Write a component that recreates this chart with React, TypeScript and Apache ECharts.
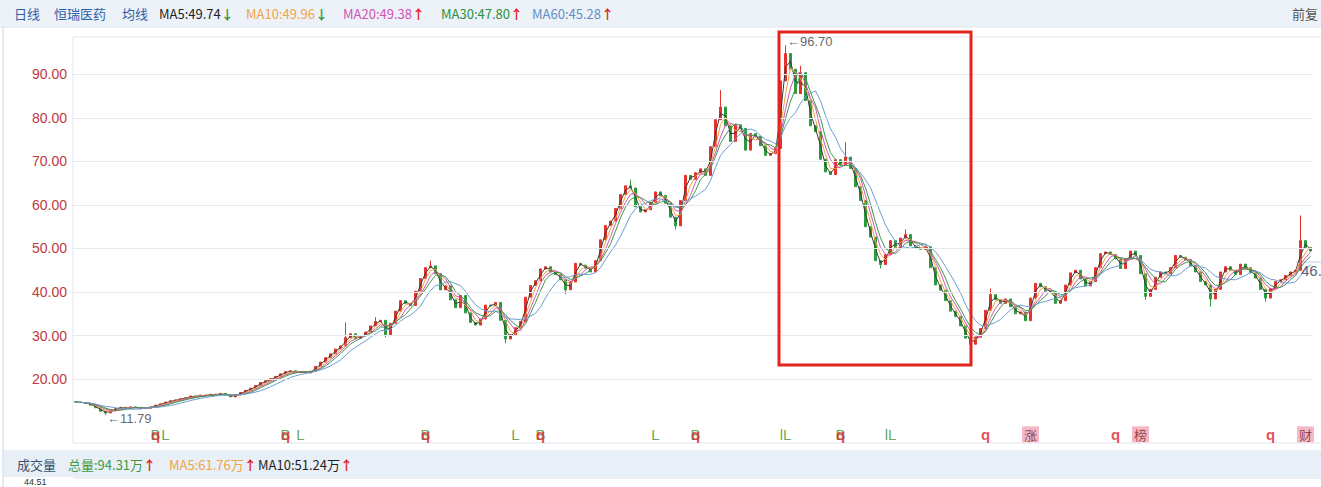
import React, { useEffect, useRef } from "react";
import * as echarts from "echarts";

// ---- data (one candle ≈ two trading weeks) ----
const closes = [
  14.7, 14.6, 14.4, 14.0, 13.4, 12.6, 12.2, 12.8, 13.2, 13.5,
  13.3, 13.6, 13.4, 13.2, 13.3, 13.6, 14.0, 14.3, 14.7, 15.0,
  15.2, 15.5, 15.7, 16.1, 16.0, 16.3, 16.2, 16.5, 16.4, 16.7,
  16.3, 15.9, 16.4, 16.9, 17.4, 17.9, 18.5, 19.2, 19.6, 20.1,
  20.6, 21.2, 21.7, 21.9, 21.5, 21.7, 21.4, 21.8, 22.9, 23.9,
  24.9, 25.8, 26.9, 27.6, 29.5, 30.4, 29.3, 29.9, 30.8, 32.2,
  33.2, 33.5, 30.2, 32.8, 35.6, 38.0, 37.4, 36.9, 40.2, 43.1,
  45.6, 46.0, 44.2, 40.5, 41.4, 38.2, 36.4, 39.2, 35.2, 33.0,
  32.4, 33.8, 37.0, 36.8, 37.6, 33.5, 29.2, 30.2, 31.8, 33.2,
  38.8, 41.5, 42.6, 45.3, 45.8, 44.6, 44.0, 42.8, 40.5, 42.3,
  46.6, 46.2, 45.5, 44.6, 47.2, 52.0, 55.3, 56.3, 59.2, 62.4,
  64.4, 63.9, 59.6, 58.4, 58.9, 60.6, 63.0, 62.2, 60.4, 57.2,
  55.2, 61.0, 66.8, 65.9, 67.4, 68.3, 66.8, 73.4, 79.6, 82.5,
  78.2, 74.6, 78.4, 77.6, 72.6, 76.4, 75.8, 73.6, 71.4, 71.8,
  73.0, 88.5, 94.8, 91.2, 85.6, 90.4, 84.0, 78.2, 76.8, 70.5,
  67.6, 67.0, 70.4, 69.2, 71.0, 68.4, 64.2, 61.0, 55.0, 52.6,
  47.2, 46.3, 48.6, 51.8, 50.2, 52.4, 53.2, 50.6, 50.2, 49.8,
  50.4, 45.6, 41.6, 40.4, 38.0, 35.6, 34.4, 32.2, 29.4, 28.0,
  29.6, 31.6, 35.8, 39.4, 38.2, 37.4, 38.4, 36.6, 35.0, 35.4,
  33.4, 38.6, 42.0, 41.2, 40.2, 40.0, 37.4, 38.0, 41.6, 44.4,
  45.0, 43.0, 41.4, 42.4, 45.6, 48.8, 49.2, 48.6, 47.6, 45.4,
  47.6, 49.4, 48.4, 44.2, 39.0, 40.6, 43.4, 44.6, 44.2, 45.6,
  48.4, 48.0, 47.4, 46.0, 44.6, 42.4, 41.6, 38.4, 40.6, 44.6,
  45.8, 45.0, 44.0, 46.4, 45.6, 44.4, 43.2, 40.6, 38.6, 40.8,
  42.4, 42.8, 43.8, 44.6, 45.0, 51.8, 50.2, 49.4,
];
const firstOpen = 14.8;
// [candle index, intraperiod high]
const highMarks: [number, number][] = [
  [54, 33.0], [60, 34.2], [71, 47.2], [111, 65.8], [129, 86.4], [142, 96.7],
  [145, 92.0], [154, 74.4], [166, 54.4], [183, 40.8], [245, 57.6],
];
// [candle index, intraperiod low]
const lowMarks: [number, number][] = [
  [6, 11.79], [62, 29.6], [86, 28.2], [98, 39.5], [120, 54.4], [161, 45.4],
  [179, 27.0], [214, 38.2], [227, 36.6], [238, 37.8],
];
const categories = closes.map((_, i) => `K${i + 1}`);
const yTicks = [20, 30, 40, 50, 60, 70, 80, 90];
const maNames = ["MA5", "MA10", "MA20", "MA30", "MA60"];
const maWindows = [2, 3, 4, 5, 8]; // in candles
const maColors = ["#3a3a3a", "#f0a23e", "#d452b6", "#3a9847", "#6b9bd2"];
const peakMark = { index: 142, value: 96.7, text: "←96.70" };
const lowMark = { index: 6, value: 11.79, text: "←11.79" };
// bottom event markers: [candle index, kind]
const events: [number, string][] = [
  [16, "RG"], [18, "L"], [42, "RG"], [45, "L"], [70, "RG"], [88, "L"], [93, "RG"],
  [116, "L"], [124, "RG"], [142, "IL"], [153, "RG"], [163, "IL"], [182, "Q"],
  [191, "涨"], [208, "Q"], [213, "榜"], [239, "Q"], [246, "财"],
];
const markerLevel = 7.3;

const maHeader = [
  { label: "MA5:49.74", arrow: "↓", color: "#1f1f1f" },
  { label: "MA10:49.96", arrow: "↓", color: "#f2a446" },
  { label: "MA20:49.38", arrow: "↑", color: "#d052b4" },
  { label: "MA30:47.80", arrow: "↑", color: "#2e8f3a" },
  { label: "MA60:45.28", arrow: "↑", color: "#5f8fc8" },
];
const maHeaderX = [159, 246, 343, 441, 532];
const volHeader = [
  { label: "总量:94.31万", arrow: "↑", color: "#3f9a3c" },
  { label: "MA5:61.76万", arrow: "↑", color: "#f0a446" },
  { label: "MA10:51.24万", arrow: "↑", color: "#1f1f1f" },
];
const volHeaderX = [68, 169, 258];

const FONT = '"Noto Sans CJK SC", "Liberation Sans", Arial, sans-serif';
const NUMFONT = '"Liberation Sans", Arial, sans-serif';
const UP = "#e5322d";
const DOWN = "#2e9a3f";

function movingAverage(w: number) {
  return closes.map((_, i) => {
    const s = Math.max(0, i - w + 1);
    let sum = 0;
    for (let k = s; k <= i; k++) sum += closes[k];
    return +(sum / (i - s + 1)).toFixed(2);
  });
}

function buildOption() {
  const ohlc = closes.map((c, i) => {
    const o = i === 0 ? firstOpen : closes[i - 1];
    let lo = Math.min(o, c);
    let hi = Math.max(o, c);
    const h = highMarks.find((m) => m[0] === i);
    if (h) hi = h[1];
    const l = lowMarks.find((m) => m[0] === i);
    if (l) lo = l[1];
    return [o, c, lo, hi];
  });

  const maSeries = maNames.map((n, k) => ({
    type: "line",
    name: n,
    data: movingAverage(maWindows[k]),
    showSymbol: false,
    symbol: "none",
    silent: true,
    z: 3,
    lineStyle: { color: maColors[k], width: 1 },
  }));

  const redGlyphs = events
    .filter((e) => e[1] === "RG" || e[1] === "Q")
    .map((e) => ({ value: [e[0], markerLevel], name: "q" }));
  const greenGlyphs = events
    .filter((e) => e[1] === "RG" || e[1] === "L" || e[1] === "IL")
    .map((e) => ({ value: [e[0], markerLevel], name: e[1] === "RG" ? "B" : e[1] === "IL" ? "lL" : "L" }));
  const badges = events
    .filter((e) => e[1] !== "RG" && e[1] !== "Q" && e[1] !== "L" && e[1] !== "IL")
    .map((e) => ({ value: [e[0], markerLevel], name: e[1] }));

  const glyphSeries = (data: any[], color: string, extra: any = {}) => ({
    type: "scatter",
    data,
    symbolSize: 1,
    itemStyle: { color: "rgba(0,0,0,0)" },
    silent: true,
    z: 6,
    label: {
      show: true,
      position: "inside",
      formatter: "{b}",
      color,
      fontSize: 15,
      fontFamily: NUMFONT,
      ...extra,
    },
  });

  const g: any[] = [];
  // header band
  g.push({ type: "rect", shape: { x: 0, y: 0, width: 1321, height: 27 }, style: { fill: "#edf2f9" }, z: -10 });
  g.push({ type: "line", shape: { x1: 0, y1: 27, x2: 1321, y2: 27 }, style: { stroke: "#dfe6f0", lineWidth: 1 } });
  const hdr = [
    { t: "日线", x: 14, c: "#2f5fa8" },
    { t: "恒瑞医药", x: 54, c: "#2f5fa8" },
    { t: "均线", x: 122, c: "#2f5fa8" },
  ];
  hdr.forEach((h) =>
    g.push({ type: "text", x: h.x, y: 13, style: { text: h.t, fill: h.c, fontSize: 13, fontFamily: FONT, verticalAlign: "middle" } })
  );
  maHeader.forEach((m, k) =>
    g.push({
      type: "text",
      x: maHeaderX[k],
      y: 13,
      style: {
        text: `{t|${m.label}}{a|${m.arrow}}`,
        verticalAlign: "middle",
        rich: {
          t: { fill: m.color, fontSize: 13, fontFamily: FONT },
          a: { fill: m.arrow === "↓" ? DOWN : "#e0262a", fontSize: 13, fontWeight: "bold", fontFamily: FONT },
        },
      },
    })
  );
  g.push({ type: "text", x: 1292, y: 13, style: { text: "前复", fill: "#555", fontSize: 13, fontFamily: FONT, verticalAlign: "middle" } });
  // outer left border
  g.push({ type: "line", shape: { x1: 3, y1: 27, x2: 3, y2: 487 }, style: { stroke: "#c9d5e4", lineWidth: 1 } });
  // plot frame
  g.push({ type: "line", shape: { x1: 73, y1: 37, x2: 1321, y2: 37 }, style: { stroke: "#e3e7ee", lineWidth: 1 } });
  g.push({ type: "line", shape: { x1: 73, y1: 37, x2: 73, y2: 443 }, style: { stroke: "#e3e7ee", lineWidth: 1 } });
  g.push({ type: "line", shape: { x1: 73, y1: 443, x2: 1321, y2: 443 }, style: { stroke: "#dfe3ea", lineWidth: 1 } });
  // annotation box
  g.push({ type: "rect", shape: { x: 779, y: 32, width: 192, height: 333 }, style: { fill: "none", stroke: "#e2261f", lineWidth: 3 }, z: 20 });
  // right-edge price tag
  g.push({ type: "line", shape: { x1: 1296, y1: 262, x2: 1321, y2: 262 }, style: { stroke: "#b9cde6", lineWidth: 1 }, z: 1 });
  g.push({ type: "text", x: 1301, y: 270, style: { text: "46.", fill: "#55657c", fontSize: 15, fontFamily: NUMFONT, verticalAlign: "middle" }, z: 8 });
  // volume header band
  g.push({ type: "rect", shape: { x: 4, y: 450, width: 1317, height: 27 }, style: { fill: "#e9eff7" }, z: -10 });
  g.push({ type: "text", x: 17, y: 464, style: { text: "成交量", fill: "#34506f", fontSize: 13, fontFamily: FONT, verticalAlign: "middle" } });
  volHeader.forEach((m, k) =>
    g.push({
      type: "text",
      x: volHeaderX[k],
      y: 464,
      style: {
        text: `{t|${m.label}}{a|${m.arrow}}`,
        verticalAlign: "middle",
        rich: {
          t: { fill: m.color, fontSize: 13, fontFamily: FONT },
          a: { fill: "#e0262a", fontSize: 13, fontWeight: "bold", fontFamily: FONT },
        },
      },
    })
  );
  g.push({ type: "line", shape: { x1: 73, y1: 478, x2: 1321, y2: 478 }, style: { stroke: "#d8dee8", lineWidth: 1 } });
  g.push({ type: "text", x: 24, y: 482, style: { text: "44.51", fill: "#333", fontSize: 9, fontFamily: NUMFONT, verticalAlign: "middle" } });

  return {
    animation: false,
    backgroundColor: "#ffffff",
    textStyle: { fontFamily: FONT },
    grid: { left: 73, right: 8, top: 37, bottom: 44, show: false },
    xAxis: {
      type: "category",
      data: categories,
      boundaryGap: true,
      axisLine: { show: false },
      axisTick: { show: false },
      axisLabel: { show: false },
      splitLine: { show: false },
    },
    yAxis: {
      type: "value",
      min: 5.3,
      max: 98.6,
      axisLine: { show: false },
      axisTick: { show: false },
      splitLine: { show: false },
      axisLabel: {
        customValues: yTicks,
        formatter: (v: number) => v.toFixed(2),
        color: "#c0383f",
        fontSize: 14,
        margin: 6,
        fontFamily: NUMFONT,
      },
    },
    series: [
      {
        type: "line",
        name: "gridlines",
        data: [],
        silent: true,
        z: 0,
        markLine: {
          silent: true,
          symbol: ["none", "none"],
          label: { show: false },
          lineStyle: { color: "#e6e9ee", width: 1, type: "solid" },
          data: yTicks.map((v) => ({ yAxis: v })),
        },
      },
      {
        type: "candlestick",
        name: "恒瑞医药",
        data: ohlc,
        barWidth: 2,
        z: 2,
        silent: true,
        itemStyle: { color: UP, color0: DOWN, borderColor: UP, borderColor0: DOWN, borderWidth: 1 },
      },
      ...maSeries,
      {
        type: "scatter",
        data: [
          { value: [peakMark.index, peakMark.value], name: peakMark.text },
          { value: [lowMark.index, lowMark.value], name: lowMark.text },
        ],
        symbolSize: 1,
        itemStyle: { color: "rgba(0,0,0,0)" },
        silent: true,
        z: 7,
        label: {
          show: true,
          position: "right",
          distance: 1,
          formatter: "{b}",
          color: "#3c3c3c",
          fontSize: 13,
          fontFamily: NUMFONT,
        },
        labelLayout: (p: any) => (p.dataIndex === 0 ? { dy: -4 } : { dy: 4 }),
      },
      glyphSeries(greenGlyphs, "#3d8f35"),
      glyphSeries(redGlyphs, "#d9262b", { fontWeight: "bold" }),
      glyphSeries(badges, "#7b1f2e", {
        fontSize: 13,
        fontFamily: FONT,
        backgroundColor: "#f2a8b8",
        padding: [2, 2, 1, 2],
      }),
    ],
    graphic: g,
  };
}

export default function App() {
  const ref = useRef<HTMLDivElement>(null);
  useEffect(() => {
    document.body.style.margin = "0";
    if (!ref.current) return;
    const chart = echarts.init(ref.current, undefined, { renderer: "svg" });
    chart.setOption(buildOption() as any);
    return () => chart.dispose();
  }, []);
  return <div ref={ref} style={{ width: 1321, height: 487 }} />;
}
